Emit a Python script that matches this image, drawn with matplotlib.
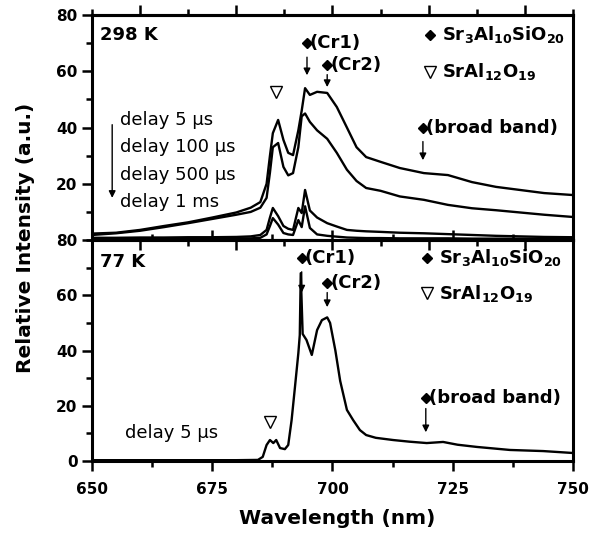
import numpy as np
import matplotlib
matplotlib.use("Agg")
import matplotlib.pyplot as plt
from matplotlib.ticker import MultipleLocator

plt.rcParams['font.family'] = ['DejaVu Sans']
plt.rcParams['mathtext.fontset'] = 'dejavusans'

# 298 K spectra (nm, a.u.)
wl_298 = [650, 655, 660, 665, 670, 675, 680, 683, 685, 686.3, 687, 687.6, 688.7,
          689.8, 690.8, 691.8, 692.9, 693.6, 694.3, 695.3, 696.8, 698.9, 700.9,
          703, 705, 707, 710, 714, 719, 724, 729, 734, 739, 744, 750]
delay_5us = [2.3, 2.6, 3.6, 5.0, 6.3, 8.0, 9.8, 11.5, 13.5, 20, 30, 38, 42.7,
             35.6, 31, 30.2, 39, 46, 54, 51.6, 52.7, 52.3, 47.3,
             40, 33, 29.5, 27.8, 25.6, 23.8, 23.1, 20.6, 18.9, 17.8, 16.7, 16]
delay_100us = [1.8, 2.4, 3.3, 4.6, 6.0, 7.5, 9.0, 10, 11.5, 15, 24, 33, 34.5,
               26, 23, 23.8, 33, 44, 45, 42, 39, 36, 31,
               25, 21, 18.5, 17.5, 15.5, 14.3, 12.5, 11.3, 10.6, 9.8, 9.0, 8.2]
delay_500us = [0.8, 0.8, 0.9, 0.9, 1.0, 1.0, 1.1, 1.3, 1.8, 3.6, 8, 11.4, 8.5,
               5, 4, 3.6, 11.4, 9.6, 17.8, 10.5, 8, 6, 4.8,
               3.6, 3.3, 3.1, 2.9, 2.6, 2.4, 2.1, 1.8, 1.5, 1.3, 1.1, 1.0]
delay_1ms = [0.5, 0.5, 0.5, 0.5, 0.5, 0.5, 0.6, 0.6, 0.8, 2, 5, 7.8, 5.5,
             2.5, 2, 1.8, 7.1, 4.6, 12, 4.3, 2, 1.5, 1.2,
             0.9, 0.8, 0.7, 0.7, 0.6, 0.6, 0.6, 0.5, 0.5, 0.5, 0.5, 0.5]

# 77 K spectrum, delay 5 us
wl_77 = [650, 660, 670, 680, 684.5, 685.5, 686.3, 687, 687.7, 688.3, 689.1,
         690.1, 690.8, 691.5, 692.2, 692.9, 693.2, 693.4, 693.8, 694.6, 695.7,
         696.8, 697.8, 698.9, 699.5, 700.6, 701.6, 703, 704.3, 705.7, 707, 709,
         712.6, 716, 719.6, 723, 726, 730, 736.9, 743.8, 750]
delay_5us_77 = [0.3, 0.3, 0.3, 0.3, 0.4, 1.5, 5.8, 7.6, 6.5, 7.6, 4.7,
                4.3, 5.8, 14.8, 26.8, 39, 45.6, 68, 46, 43.8, 38.4,
                47.4, 51, 52, 50, 40, 29, 18.5, 14.8, 11.2, 9.4, 8.4,
                7.6, 7.0, 6.5, 6.9, 5.9, 5.1, 4.0, 3.6, 2.9]

delay_labels = ['delay 5 \u03bcs', 'delay 100 \u03bcs', 'delay 500 \u03bcs', 'delay 1 ms']

fig = plt.figure(figsize=(6.02, 5.37), dpi=100)
ax1 = fig.add_axes([0.1528, 0.553, 0.799, 0.419])
ax2 = fig.add_axes([0.1528, 0.1415, 0.799, 0.4115])

for y in (delay_5us, delay_100us, delay_500us, delay_1ms):
    ax1.plot(wl_298, y, color='black', lw=1.7)
ax2.plot(wl_77, delay_5us_77, color='black', lw=1.7)


def style(ax, bottom_dir, top_dir, show_x):
    ax.set_xlim(650, 750)
    ax.set_ylim(0, 80)
    for s in ax.spines.values():
        s.set_linewidth(2.2)
    ax.xaxis.set_major_locator(MultipleLocator(25))
    ax.xaxis.set_minor_locator(MultipleLocator(12.5))
    ax.yaxis.set_major_locator(MultipleLocator(20))
    ax.yaxis.set_minor_locator(MultipleLocator(10))
    ax.tick_params(axis='x', which='both', direction=bottom_dir, width=1.8,
                   labelbottom=show_x, labelsize=11, pad=8)
    ax.tick_params(axis='x', which='major', length=7)
    ax.tick_params(axis='x', which='minor', length=4)
    ax.tick_params(axis='y', which='both', direction='out', width=1.8, labelsize=11)
    ax.tick_params(axis='y', which='major', length=7)
    ax.tick_params(axis='y', which='minor', length=4)
    for lab in ax.get_xticklabels() + ax.get_yticklabels():
        lab.set_fontweight('bold')
    sec = ax.secondary_xaxis('top')
    sec.xaxis.set_major_locator(MultipleLocator(20))
    sec.xaxis.set_minor_locator(MultipleLocator(10))
    sec.tick_params(which='both', direction=top_dir, width=1.8, labeltop=False)
    sec.tick_params(which='major', length=7)
    sec.tick_params(which='minor', length=4)
    sec.spines['top'].set_linewidth(2.2)


style(ax1, 'in', 'out', False)
style(ax2, 'out', 'in', True)
ax1.set_yticks([20, 40, 60, 80])
ax1.set_yticklabels(['20', '40', '60', '80'], fontweight='bold', fontsize=11)


def marks(ax, cr1, cr2, bb, leg1, leg2, tri):
    kw = dict(fontsize=13, fontweight='bold', va='center', ha='left')
    ap = dict(arrowstyle='-|>', color='black', lw=1.0, mutation_scale=10)
    for (x, y, y0, y1, txt) in (cr1, cr2, bb):
        ax.plot(x, y, marker='D', ms=5, color='black')
        ax.text(x + 0.6, y, txt, **kw)
        ax.annotate('', xy=(x, y1), xytext=(x, y0), arrowprops=ap)
    ax.plot(leg1[0], leg1[1], marker='D', ms=5, color='black')
    ax.text(leg1[0] + 2.5, leg1[1], r'$\mathbf{Sr_3Al_{10}SiO_{20}}$', **kw)
    ax.plot(leg2[0], leg2[1], marker='v', ms=9, mfc='white', mec='black', mew=1.0)
    ax.text(leg2[0] + 2.5, leg2[1], r'$\mathbf{SrAl_{12}O_{19}}$', **kw)
    ax.plot(tri[0], tri[1], marker='v', ms=9, mfc='white', mec='black', mew=1.0)


marks(ax1, (694.7, 70, 66, 57.6, '(Cr1)'), (698.9, 62.3, 59.8, 53.4, '(Cr2)'),
      (718.8, 39.9, 36, 27.4, '(broad band)'), (720.3, 73), (720.3, 59.8), (688.3, 52.7))
marks(ax2, (693.6, 73.5, 69.5, 60, '(Cr1)'), (698.9, 64.4, 62, 54.7, '(Cr2)'),
      (719.4, 22.8, 20, 9.4, '(broad band)'), (719.6, 73.5), (719.6, 60.8), (687, 14.1))

ax1.text(651.7, 73, '298 K', fontsize=13, fontweight='bold', va='center')
ax2.text(651.7, 72, '77 K', fontsize=13, fontweight='bold', va='center')

for i, lab in enumerate(delay_labels):
    ax1.text(655.8, 42.7 - 9.7 * i, lab, fontsize=13, va='center')
ax1.annotate('', xy=(654.2, 14), xytext=(654.2, 42),
             arrowprops=dict(arrowstyle='-|>', color='black', lw=1.0, mutation_scale=10))
ax2.text(656.9, 10, 'delay 5 \u03bcs', fontsize=13, va='center')

fig.text(0.043, 0.557, 'Relative Intensity (a.u.)', rotation=90, fontsize=14.5,
         fontweight='bold', ha='center', va='center')
fig.text(0.56, 0.035, 'Wavelength (nm)', fontsize=14.5, fontweight='bold',
         ha='center', va='center')

fig.savefig('out.png', dpi=100)
